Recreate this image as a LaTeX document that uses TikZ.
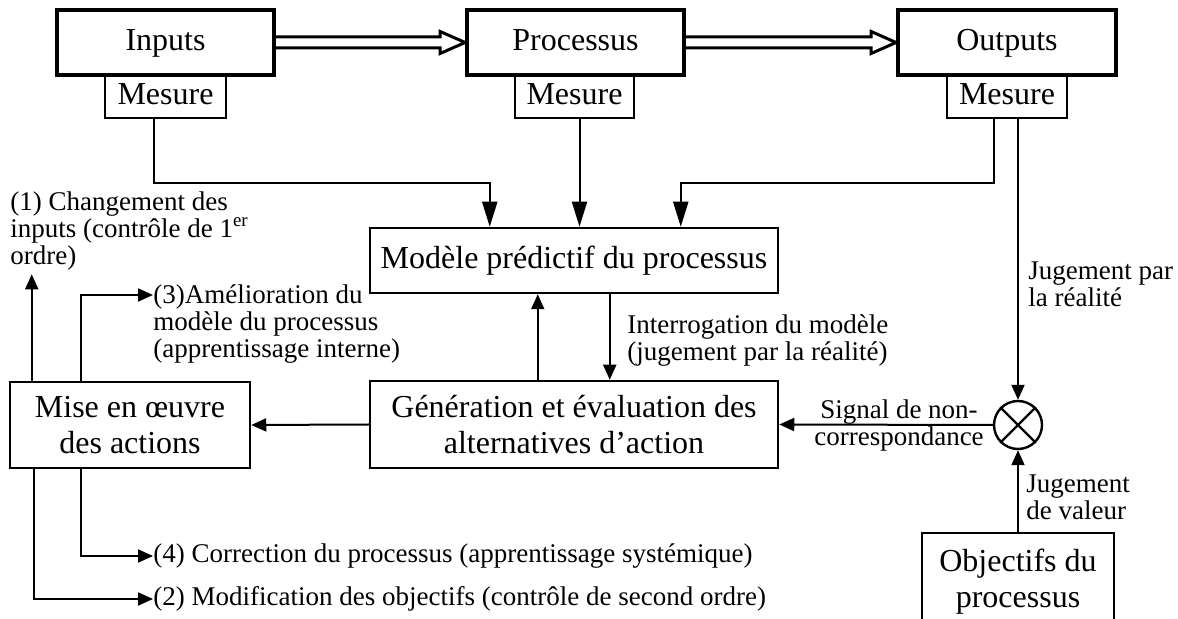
\documentclass[tikz,border=0pt]{standalone}
\usepackage{fontspec}
\setmainfont{Liberation Serif}
\usetikzlibrary{arrows.meta,calc}
\begin{document}
\begin{tikzpicture}[x=0.5pt,y=-0.5pt,
  bigbox/.style={draw,line width=1.9pt,font=\fontsize{16}{18}\selectfont,inner sep=0pt,minimum height=32.5pt,text height=11.2pt,text depth=3.5pt},
  mesbox/.style={draw,line width=1.2pt,font=\fontsize{16}{18}\selectfont,inner sep=0pt,minimum height=21.5pt,text height=11.2pt,text depth=3pt},
  midbox/.style={draw,line width=1.25pt,font=\fontsize{16}{18}\selectfont,inner sep=0pt,align=center},
  lab/.style={font=\fontsize{13.5}{13.5}\selectfont,inner sep=0pt,align=left},
  conn/.style={line width=1pt},
  arrbig/.style={conn,-{Triangle[length=12.5pt,width=7.5pt]}},
  arr/.style={conn,-{Triangle[length=7.5pt,width=6.5pt]}},
  hollow/.style={line width=1.5pt,line join=miter}
]
\clip (0,0) rectangle (1178,619);
\fill[white] (0,0) rectangle (1178,619);

% top row
\node[mesbox,minimum width=60.5pt] (mesIn) at (165.5,96.75) {Mesure};
\node[mesbox,minimum width=59.5pt] (mesProc) at (574.5,96.75) {Mesure};
\node[mesbox,minimum width=60pt] (mesOut) at (1007,96.75) {Mesure};
\node[bigbox,minimum width=108.5pt] (inputs) at (165.5,42.5) {Inputs};
\node[bigbox,minimum width=108.5pt] (proc) at (575.5,42.5) {Processus};
\node[bigbox,minimum width=109pt] (outp) at (1007,42.5) {Outputs};

% middle boxes
\node[midbox,minimum width=204pt,minimum height=32.5pt] (modele) at (574,260.5) {Modèle prédictif du processus};
\node[midbox,minimum width=204pt,minimum height=43.5pt] (gen) at (574,424.5) {Génération et évaluation des\\alternatives d’action};
\node[midbox,minimum width=120pt,minimum height=43pt] (mise) at (130,425) {Mise en œuvre\\des actions};
\node[draw,circle,line width=1.2pt,minimum size=24pt,inner sep=0pt] (circ) at (1018,425) {};
\node[midbox,minimum width=96pt,minimum height=48.5pt] (obj) at (1018,581.5) {Objectifs du\\processus};

% labels
\node[lab,anchor=north west] (lab1) at (10,191) {(1) Changement des\\inputs (contrôle de 1\textsuperscript{er}\\ordre)};
\node[lab,anchor=north west] (lab3) at (153,284) {(3)Amélioration du\\modèle du processus\\(apprentissage interne)};
\node[lab,anchor=north west] (interr) at (627,314) {Interrogation du modèle\\(jugement par la réalité)};
\node[lab,anchor=north west] (jugreal) at (1028,261) {Jugement par\\la réalité};
\node[lab,anchor=north,align=center] (signal) at (899,399) {Signal de non-\\correspondance};
\node[lab,anchor=north west] (jugval) at (1026,474) {Jugement\\de valeur};
\node[lab,anchor=west] (lab4) at (153,556) {(4) Correction du processus (apprentissage systémique)};
\node[lab,anchor=west] (lab2) at (153,599) {(2) Modification des objectifs (contrôle de second ordre)};

% hollow double arrows
\draw[hollow] ($(inputs.east)+(0,-5.5)$) -- ($(proc.west)+(-25,-5.5)$) -- ($(proc.west)+(-25,-11)$)
  -- (proc.west) -- ($(proc.west)+(-25,11)$) -- ($(proc.west)+(-25,5.5)$) -- ($(inputs.east)+(0,5.5)$);
\draw[hollow] ($(proc.east)+(0,-5.5)$) -- ($(outp.west)+(-25,-5.5)$) -- ($(outp.west)+(-25,-11)$)
  -- (outp.west) -- ($(outp.west)+(-25,11)$) -- ($(outp.west)+(-25,5.5)$) -- ($(proc.east)+(0,5.5)$);

% measures to model
\coordinate (ia) at ($(mesIn.south)+(-11.5,0)$);
\coordinate (ib) at ($(modele.north west)+(121,0)$);
\draw[arrbig] (ia) |- ($(ib)+(0,-44)$) -- (ib);
\draw[arrbig] ($(mesProc.south)+(5,0)$) -- ($(modele.north)+(5.5,0)$);
\coordinate (oa) at ($(mesOut.south)+(-13,0)$);
\coordinate (ob) at ($(modele.north west)+(312,0)$);
\draw[arrbig] (oa) |- ($(ob)+(0,-44)$) -- (ob);

% outputs measure to comparator
\draw[arr] (mesOut.south -| circ.north) -- (circ.north);
\draw[line width=1.2pt] (circ.45) -- (circ.225) (circ.135) -- (circ.315);
\draw[arr] (obj.north) -- (circ.south);
\draw[arr] (circ.west) -- (gen.east);

% model <-> generation
\draw[arr] ($(gen.north west)+(169,0)$) -- ($(modele.south west)+(169,0)$);
\draw[arr] ($(modele.south west)+(241,0)$) -- ($(gen.north west)+(241,0)$);
\draw[arr] (gen.west) -- (mise.east);

% outputs of mise en oeuvre
\coordinate (m1) at ($(mise.north west)+(23,0)$);
\draw[arr] (m1) -- ($(m1 |- lab1.south)+(0,4)$);
\coordinate (m3) at ($(mise.north west)+(72,0)$);
\coordinate (t3) at ($(lab3.north west)+(0,11)$);
\draw[arr] (m3) |- (t3);
\coordinate (m4) at ($(mise.south west)+(72,0)$);
\draw[arr] (m4) |- (lab4.west);
\coordinate (m2) at ($(mise.south west)+(25,0)$);
\draw[arr] (m2) |- (lab2.west);
\end{tikzpicture}
\end{document}
